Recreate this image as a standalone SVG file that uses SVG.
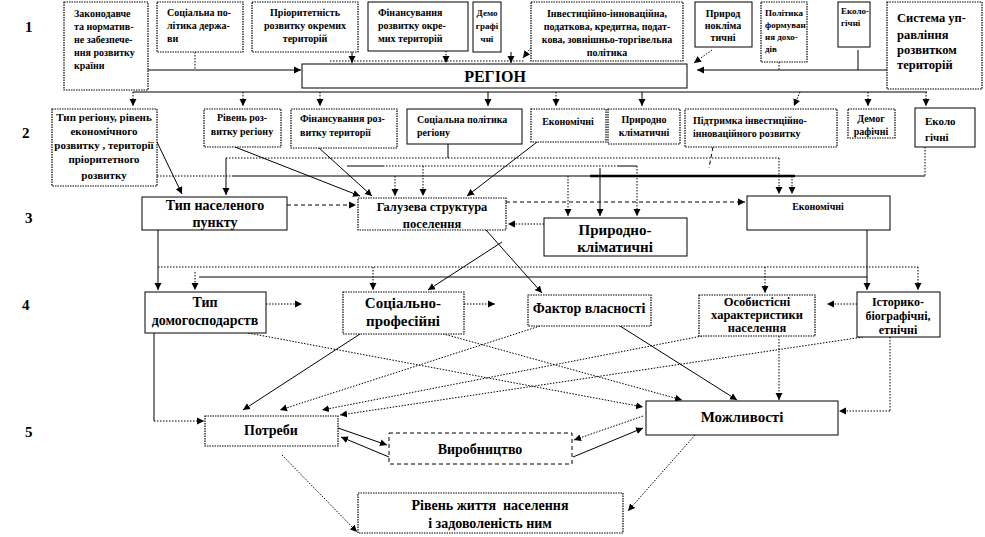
<svg xmlns="http://www.w3.org/2000/svg" width="985" height="537" viewBox="0 0 985 537" font-family="'Liberation Serif', serif">
<style>
.b{fill:#fff;stroke:#000;stroke-width:1}
.bd{fill:#fff;stroke:#000;stroke-width:1.2;stroke-dasharray:1.5 1}
.bx{fill:#fff;stroke:#000;stroke-width:1;stroke-dasharray:4 3}
.t{font-family:'Liberation Serif', serif;font-weight:bold;fill:#000}
.s9{font-size:9px}.s10{font-size:10px}.s11{font-size:11px}.s12{font-size:12px}.s13{font-size:12.5px}.s14{font-size:14px}.s15{font-size:15px}.s16{font-size:16px}
.c{text-anchor:middle}
.l{stroke:#000;stroke-width:1;fill:none}
.th{stroke-width:2.5}
.d{stroke-dasharray:1.5 1.5}
.ds{stroke-dasharray:4 3}
.a{marker-end:url(#ah)}
</style>
<defs>
<marker id="ah" markerWidth="8" markerHeight="8" refX="7" refY="4" orient="auto" markerUnits="userSpaceOnUse">
<path d="M0,0.5 L7,4 L0,7.5 z" fill="#000"/>
</marker>
</defs>
<rect x="0" y="0" width="985" height="537" fill="#fff"/>

<g id="row-labels" class="t s15">
<text x="25" y="32">1</text>
<text x="22" y="138">2</text>
<text x="25" y="223">3</text>
<text x="22" y="310">4</text>
<text x="25" y="437">5</text>
</g>

<g id="connectors">
<path class="l a" d="M148,70 H301"/>
<path class="l d" d="M195,52 V70"/>
<path class="l d" d="M330,61 H524"/>
<path class="l a" d="M352,52 V63"/>
<path class="l d a" d="M446,51 V63"/>
<path class="l a" d="M511,52 V63"/>
<path class="l d a" d="M533,45 L523,58"/>
<path class="l d a" d="M712,50 L694,63"/>
<path class="l a" d="M887,70 H697"/>
<path class="l d" d="M779,62 V70"/>
<path class="l" d="M858,50 V70"/>
<path class="l" d="M133,92 H927"/>
<path class="l d a" d="M133,92 V106"/>
<path class="l d a" d="M243,92 V106"/>
<path class="l d a" d="M320,92 V106"/>
<path class="l a" d="M488,92 V106"/>
<path class="l d a" d="M556,92 V106"/>
<path class="l a" d="M642,92 V106"/>
<path class="l d a" d="M800,92 L794,106"/>
<path class="l d a" d="M868,92 V106"/>
<path class="l d a" d="M926,92 V106"/>
<path class="l a" d="M157,142 L182,194"/>
<path class="l d" d="M226,158 H779"/>
<path class="l d a" d="M779,158 V194"/>
<path class="l a" d="M226,158 V195"/>
<path class="l" d="M448,144 V158"/>
<path class="l" d="M347,166 H383"/>
<path class="l d" d="M383,166 H617"/>
<path class="l" d="M617,166 H637"/>
<path class="l d a" d="M637,166 V216"/>
<path class="l d" d="M157,176 H233"/>
<path class="l" d="M233,176 H590"/>
<path class="l th" d="M590,176 H795"/>
<path class="l" d="M795,176 H925"/>
<path class="l d" d="M925,147 V176"/>
<path class="l d a" d="M395,176 V196"/>
<path class="l d a" d="M423,166 V196"/>
<path class="l d a" d="M568,176 V216"/>
<path class="l a" d="M600,168 V216"/>
<path class="l d a" d="M792,176 V194"/>
<path class="l ds" d="M713,147 L709,168"/>
<path class="l a" d="M235,147 L360,196"/>
<path class="l a" d="M318,147 L372,196"/>
<path class="l a" d="M537,142 L467,196"/>
<path class="l ds a" d="M287,205 H356"/>
<path class="l ds a" d="M506,202 H745"/>
<path class="l d a" d="M544,224 H508"/>
<path class="l a" d="M158,230 V290"/>
<path class="l d" d="M158,267 H918"/>
<path class="l d a" d="M918,267 V290"/>
<path class="l d a" d="M373,267 V290"/>
<path class="l d a" d="M765,267 V293"/>
<path class="l" d="M199,277 H867"/>
<path class="l a" d="M867,230 V290"/>
<path class="l d a" d="M195,272 V290"/>
<path class="l a" d="M486,230 L542,293"/>
<path class="l a" d="M502,242 L428,290"/>
<path class="l d a" d="M266,304 H302"/>
<path class="l d a" d="M464,304 H495"/>
<path class="l d a" d="M857,304 H827"/>
<path class="l" d="M154,333 V421"/>
<path class="l d a" d="M154,421 H204"/>
<path class="l d a" d="M248,333 L643,407"/>
<path class="l d a" d="M440,333 L682,400"/>
<path class="l a" d="M360,334 L243,410"/>
<path class="l d a" d="M540,326 L280,410"/>
<path class="l a" d="M620,326 L737,400"/>
<path class="l d a" d="M702,336 L322,410"/>
<path class="l d a" d="M779,336 V400"/>
<path class="l d a" d="M863,337 L340,415"/>
<path class="l d" d="M890,337 V411"/>
<path class="l d a" d="M890,411 H839"/>
<path class="l a" d="M338,428 L387,445"/>
<path class="l a" d="M389,457 L341,437"/>
<path class="l d a" d="M643,416 L574,440"/>
<path class="l a" d="M573,457 L643,428"/>
<path class="l d a" d="M282,455 L357,532"/>
<path class="l d a" d="M695,435 L628,511"/>
</g>

<g id="n-zakonodavche">
<rect class="bd" x="64" y="2" width="84" height="88"/>
<text class="t s10" x="74" y="17">Законодавче</text>
<text class="t s10" x="74" y="30">та норматив-</text>
<text class="t s10" x="74" y="43">не забезпече-</text>
<text class="t s10" x="74" y="56">ння розвитку</text>
<text class="t s10" x="74" y="69">країни</text>
</g>
<g id="n-socpol-derzh">
<rect class="bd" x="157" y="2" width="86" height="50"/>
<text class="t s10" x="167" y="16">Соціальна по-</text>
<text class="t s10" x="167" y="29">літика держа-</text>
<text class="t s10" x="167" y="42">ви</text>
</g>
<g id="n-priorytet">
<rect class="bd" x="252" y="2" width="106" height="50"/>
<text class="t s10 c" x="305" y="16">Пріоритетність</text>
<text class="t s10 c" x="305" y="29">розвитку окремих</text>
<text class="t s10 c" x="305" y="42">територій</text>
</g>
<g id="n-finans-okr">
<rect class="b" x="368" y="2" width="100" height="49"/>
<text class="t s10" x="378" y="16">Фінансування</text>
<text class="t s10" x="378" y="29">розвитку окре-</text>
<text class="t s10" x="378" y="42">мих територій</text>
</g>
<g id="n-demo1">
<rect class="b" x="473" y="2" width="28" height="50"/>
<text class="t s9 c" x="487" y="16">Демо</text>
<text class="t s9 c" x="487" y="29">графі</text>
<text class="t s9 c" x="487" y="42">чні</text>
</g>
<g id="n-invest-pol">
<rect class="bd" x="531" y="2" width="152" height="59"/>
<text class="t s10 c" x="607" y="17">Інвестиційно-інноваційна,</text>
<text class="t s10 c" x="607" y="30">податкова, кредитна, подат-</text>
<text class="t s10 c" x="607" y="43">кова, зовнішньо-торгівельна</text>
<text class="t s10 c" x="607" y="56">політика</text>
</g>
<g id="n-pryrod1">
<rect class="b" x="695" y="2" width="57" height="45"/>
<text class="t s10 c" x="723" y="17">Природ</text>
<text class="t s10 c" x="723" y="29">нокліма</text>
<text class="t s10 c" x="723" y="41">тичні</text>
</g>
<g id="n-polityka-dohodiv">
<rect class="bd" x="761" y="2" width="46" height="60"/>
<text class="t s9" x="765" y="16">Політика</text>
<text class="t s9" x="765" y="28">формуван</text>
<text class="t s9" x="765" y="40">ня дохо-</text>
<text class="t s9" x="765" y="52">дів</text>
</g>
<g id="n-eko1">
<rect class="b" x="838" y="2" width="32" height="45"/>
<text class="t s9" x="841" y="14">Еколо-</text>
<text class="t s9" x="841" y="26">гічні</text>
</g>
<g id="n-systema">
<rect class="bd" x="887" y="2" width="95" height="87"/>
<text class="t s13" x="897" y="22">Система уп-</text>
<text class="t s13" x="897" y="39">равління</text>
<text class="t s13" x="897" y="54">розвитком</text>
<text class="t s13" x="897" y="69">територій</text>
</g>
<g id="n-region">
<rect class="b" x="302" y="64" width="385" height="24"/>
<text class="t s16 c" x="495" y="82">РЕГІОН</text>
</g>

<g id="n-typ-regionu">
<rect class="bd" x="52" y="109" width="105" height="77"/>
<text class="t s11 c" x="104" y="121">Тип регіону, рівень</text>
<text class="t s11 c" x="104" y="135">економічного</text>
<text class="t s11 c" x="104" y="149">розвитку , території</text>
<text class="t s11 c" x="104" y="163">пріоритетного</text>
<text class="t s11 c" x="104" y="179">розвитку</text>
</g>
<g id="n-riven-rozv">
<rect class="bd" x="204" y="109" width="77" height="38"/>
<text class="t s10 c" x="242" y="121">Рівень роз-</text>
<text class="t s10 c" x="242" y="135">витку регіону</text>
</g>
<g id="n-finans-ter">
<rect class="bd" x="291" y="109" width="106" height="39"/>
<text class="t s10" x="300" y="122">Фінансування роз-</text>
<text class="t s10" x="300" y="136">витку території</text>
</g>
<g id="n-socpol-reg">
<rect class="b" x="407" y="109" width="115" height="35"/>
<text class="t s10" x="417" y="123">Соціальна політика</text>
<text class="t s10" x="417" y="136">регіону</text>
</g>
<g id="n-ekonom2">
<rect class="bd" x="531" y="109" width="75" height="33"/>
<text class="t s10 c" x="568" y="125">Економічні</text>
</g>
<g id="n-pryrod2">
<rect class="bd" x="608" y="109" width="72" height="35"/>
<text class="t s10 c" x="644" y="123">Природно</text>
<text class="t s10 c" x="644" y="136">кліматичні</text>
</g>
<g id="n-pidtrymka">
<rect class="bd" x="685" y="109" width="152" height="38"/>
<text class="t s10" x="693" y="124">Підтримка інвестиційно-</text>
<text class="t s10" x="693" y="137">інноваційного розвитку</text>
</g>
<g id="n-demog2">
<rect class="bd" x="848" y="109" width="47" height="29"/>
<text class="t s10 c" x="871" y="122">Демог</text>
<text class="t s10 c" x="871" y="135">рафічні</text>
</g>
<g id="n-eko2">
<rect class="b" x="915" y="108" width="60" height="39"/>
<text class="t s11" x="925" y="125">Еколо</text>
<text class="t s11" x="925" y="141">гічні</text>
</g>

<g id="n-typ-nas-punktu">
<rect class="b" x="142" y="197" width="145" height="33"/>
<text class="t s14 c" x="215" y="210">Тип населеного</text>
<text class="t s14 c" x="215" y="227">пункту</text>
</g>
<g id="n-haluzeva">
<rect class="bd" x="358" y="198" width="148" height="32"/>
<text class="t s13 c" x="432" y="211">Галузева структура</text>
<text class="t s13 c" x="432" y="228">поселення</text>
</g>
<g id="n-pryrod3">
<rect class="b" x="544" y="218" width="143" height="38"/>
<text class="t s15 c" x="615" y="235">Природно-</text>
<text class="t s15 c" x="615" y="252">кліматичні</text>
</g>
<g id="n-ekonom3">
<rect class="b" x="747" y="196" width="143" height="34"/>
<text class="t s10 c" x="818" y="210">Економічні</text>
</g>

<g id="n-typ-domohosp">
<rect class="b" x="145" y="292" width="121" height="41"/>
<text class="t s14 c" x="205" y="307">Тип</text>
<text class="t s14 c" x="205" y="325">домогосподарств</text>
</g>
<g id="n-socprof">
<rect class="bd" x="343" y="292" width="121" height="42"/>
<text class="t s15 c" x="403" y="308">Соціально-</text>
<text class="t s15 c" x="403" y="326">професійні</text>
</g>
<g id="n-faktor">
<rect class="bd" x="528" y="295" width="123" height="31"/>
<text class="t s14 c" x="589" y="313">Фактор власності</text>
</g>
<g id="n-osobyst">
<rect class="bd" x="699" y="295" width="116" height="41"/>
<text class="t s13 c" x="757" y="306">Особистісні</text>
<text class="t s13 c" x="757" y="319">характеристики</text>
<text class="t s13 c" x="757" y="332">населення</text>
</g>
<g id="n-istoryko">
<rect class="b" x="857" y="292" width="83" height="45"/>
<text class="t s12 c" x="898" y="306">Історико-</text>
<text class="t s12 c" x="898" y="320">біографічні,</text>
<text class="t s12 c" x="898" y="334">етнічні</text>
</g>

<g id="n-potreby">
<rect class="bd" x="205" y="416" width="133" height="30"/>
<text class="t s14 c" x="271" y="435">Потреби</text>
</g>
<g id="n-vyrobnytstvo">
<rect class="bx" x="389" y="433" width="183" height="31"/>
<text class="t s14 c" x="480" y="454">Виробництво</text>
</g>
<g id="n-mozhlyvosti">
<rect class="b" x="646" y="401" width="192" height="34"/>
<text class="t s15 c" x="742" y="422">Можливості</text>
</g>
<g id="n-riven-zhyttia">
<rect class="bd" x="358" y="493" width="265" height="40"/>
<text class="t s14 c" x="490" y="510">Рівень життя&#160; населення</text>
<text class="t s14 c" x="490" y="528">і задоволеність ним</text>
</g>
</svg>
